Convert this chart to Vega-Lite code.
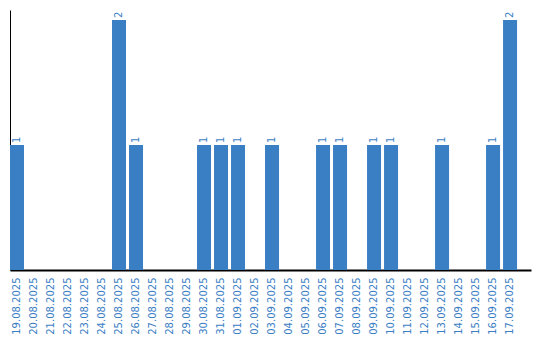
{
  "$schema": "https://vega.github.io/schema/vega-lite/v6.json",
  "width": 521,
  "height": 260,
  "autosize": {"type": "none"},
  "padding": {"left": 10, "top": 10, "right": 9, "bottom": 70},
  "background": "white",
  "config": {"view": {"stroke": null}},
  "data": {"values": [
    {"date": "19.08.2025", "count": 1},
    {"date": "20.08.2025", "count": 0},
    {"date": "21.08.2025", "count": 0},
    {"date": "22.08.2025", "count": 0},
    {"date": "23.08.2025", "count": 0},
    {"date": "24.08.2025", "count": 0},
    {"date": "25.08.2025", "count": 2},
    {"date": "26.08.2025", "count": 1},
    {"date": "27.08.2025", "count": 0},
    {"date": "28.08.2025", "count": 0},
    {"date": "29.08.2025", "count": 0},
    {"date": "30.08.2025", "count": 1},
    {"date": "31.08.2025", "count": 1},
    {"date": "01.09.2025", "count": 1},
    {"date": "02.09.2025", "count": 0},
    {"date": "03.09.2025", "count": 1},
    {"date": "04.09.2025", "count": 0},
    {"date": "05.09.2025", "count": 0},
    {"date": "06.09.2025", "count": 1},
    {"date": "07.09.2025", "count": 1},
    {"date": "08.09.2025", "count": 0},
    {"date": "09.09.2025", "count": 1},
    {"date": "10.09.2025", "count": 1},
    {"date": "11.09.2025", "count": 0},
    {"date": "12.09.2025", "count": 0},
    {"date": "13.09.2025", "count": 1},
    {"date": "14.09.2025", "count": 0},
    {"date": "15.09.2025", "count": 0},
    {"date": "16.09.2025", "count": 1},
    {"date": "17.09.2025", "count": 2}
  ]},
  "encoding": {
    "x": {
      "field": "date", "type": "ordinal", "sort": null,
      "scale": {"paddingInner": 0.1765, "paddingOuter": 0.41, "align": 0},
      "axis": {
        "title": null, "ticks": false, "labelAngle": -90, "labelPadding": 7,
        "labelFont": "DejaVu Sans", "labelFontSize": 10, "labelColor": "#3a7ec4",
        "domainColor": "#000000", "domainWidth": 2, "grid": false
      }
    },
    "y": {
      "field": "count", "type": "quantitative",
      "scale": {"domain": [0, 2.08], "nice": false},
      "axis": {
        "title": null, "ticks": false, "labels": false, "grid": false,
        "domainColor": "#000000", "domainWidth": 1
      }
    }
  },
  "layer": [
    {"mark": {"type": "bar", "color": "#3a7ec4"}},
    {
      "transform": [{"filter": "datum.count > 0"}],
      "mark": {"type": "text", "angle": 270, "align": "left", "baseline": "middle", "dx": 2,
               "font": "DejaVu Sans", "fontSize": 10, "color": "#3a7ec4"},
      "encoding": {"text": {"field": "count", "type": "quantitative"}}
    }
  ]
}
